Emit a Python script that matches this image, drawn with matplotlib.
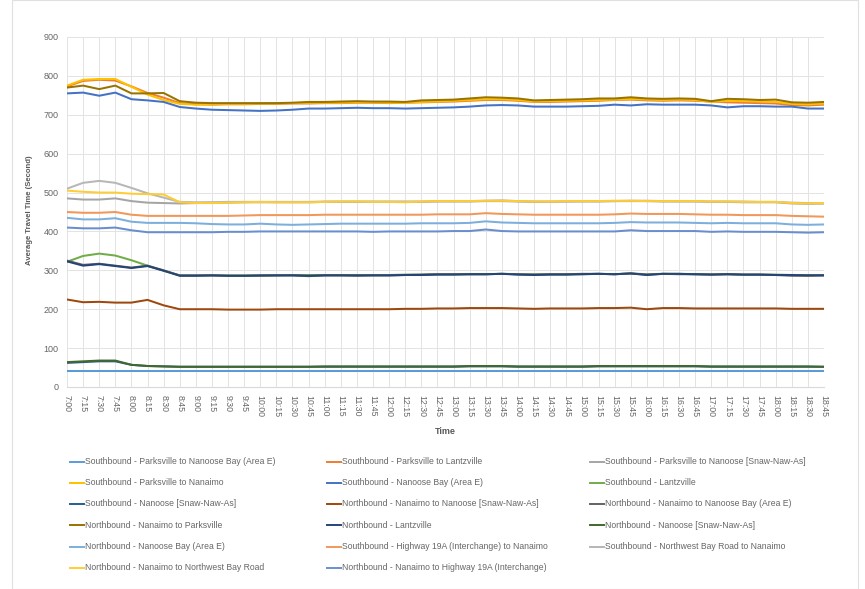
import matplotlib
matplotlib.use("Agg")
import matplotlib.pyplot as plt
from matplotlib.lines import Line2D
from matplotlib.patches import Rectangle

times = [f"{h}:{m:02d}" for h in range(7, 19) for m in (0, 15, 30, 45)]

names = [
    "Southbound - Parksville to Nanoose Bay (Area E)",
    "Southbound - Parksville to Lantzville",
    "Southbound - Parksville to Nanoose [Snaw-Naw-As]",
    "Southbound - Parksville to Nanaimo",
    "Southbound - Nanoose Bay (Area E)",
    "Southbound - Lantzville",
    "Southbound - Nanoose [Snaw-Naw-As]",
    "Northbound - Nanaimo to Nanoose [Snaw-Naw-As]",
    "Northbound - Nanaimo to Nanoose Bay (Area E)",
    "Northbound - Nanaimo to Parksville",
    "Northbound - Lantzville",
    "Northbound - Nanoose [Snaw-Naw-As]",
    "Northbound - Nanoose Bay (Area E)",
    "Southbound - Highway 19A (Interchange) to Nanaimo",
    "Southbound - Northwest Bay Road to Nanaimo",
    "Northbound - Nanaimo to Northwest Bay Road",
    "Northbound - Nanaimo to Highway 19A (Interchange)",
]

colors = ["#5B9BD5", "#ED7D31", "#A5A5A5", "#FFC000", "#4472C4", "#70AD47",
          "#255E91", "#9E480E", "#636363", "#997300", "#264478", "#43682B",
          "#7CAFDD", "#F1975A", "#B7B7B7", "#FFCD33", "#698ED0"]

sb_parksville_nanoose_bay = [40] * 48
sb_parksville_lantzville = [773,787,790,788,773,756,744,730,727,726,727,727,728,728,729,729,730,730,731,731,730,731,732,733,734,736,738,738,736,733,733,734,735,736,738,739,737,736,737,736,734,732,731,730,729,725,724,726]
sb_parksville_snaw = [485,482,482,485,478,474,473,472,473,474,474,475,475,475,475,475,476,476,476,476,476,476,476,477,477,477,478,478,477,476,476,477,477,477,478,478,478,477,477,477,476,476,475,475,475,472,471,472]
sb_parksville_nanaimo = [775,790,792,792,772,752,738,728,726,727,728,728,729,729,730,731,731,731,732,732,731,731,733,734,736,738,740,740,738,734,735,736,737,738,739,741,739,738,739,738,733,736,735,734,733,728,727,729]
sb_nanoose_bay = [755,757,749,757,740,737,733,720,716,713,712,711,710,711,713,716,716,717,718,717,717,716,717,718,719,721,724,725,724,721,721,721,722,723,726,724,727,726,726,726,724,719,722,722,721,721,716,716]
sb_lantzville = [322,337,343,338,326,312,299,287,287,287,287,287,287,287,288,288,288,288,288,288,288,289,289,290,290,290,290,291,290,290,290,290,290,291,290,292,290,291,291,290,290,290,289,289,289,288,288,288]
sb_snaw = [62,64,66,66,57,54,53,52,52,52,52,52,52,52,52,52,52,52,52,52,52,52,52,52,52,53,53,53,52,52,52,52,52,53,53,53,53,53,53,53,52,52,52,52,52,52,52,52]
nb_nanaimo_snaw = [225,218,219,217,217,224,210,200,200,200,199,199,199,200,200,200,200,200,200,200,200,201,201,202,202,203,203,203,202,201,202,202,202,203,203,204,200,203,203,202,202,202,202,202,202,201,201,201]
nb_nanaimo_nanoose_bay = [325,314,317,312,307,312,300,287,287,287,286,286,286,287,287,285,287,287,286,287,287,288,289,290,290,290,290,291,290,289,290,290,291,291,290,292,289,291,290,290,289,290,289,289,288,286,286,287]
nb_nanaimo_parksville = [770,775,766,775,755,755,756,735,731,730,730,730,730,730,731,733,733,734,735,734,734,733,737,738,739,742,745,744,742,737,738,739,740,742,742,745,742,741,742,741,735,741,740,738,739,732,731,733]
nb_lantzville = [323,312,316,311,306,311,299,286,286,287,286,286,287,287,287,286,287,287,287,287,287,288,288,289,289,290,290,291,289,288,289,289,290,291,290,292,288,291,291,290,289,290,289,289,288,288,287,287]
nb_snaw = [64,66,68,68,57,54,53,52,52,52,52,52,52,52,52,52,53,53,53,53,53,53,53,53,53,54,54,54,53,53,53,53,53,54,54,54,54,54,54,54,53,53,53,53,53,53,53,52]
nb_nanoose_bay = [435,431,431,434,425,422,422,422,421,419,418,418,420,418,417,418,419,420,420,420,420,420,421,421,421,422,426,423,422,421,421,421,421,421,422,424,423,423,423,422,421,422,421,421,421,418,417,418]
sb_hwy19a_nanaimo = [450,448,448,450,443,440,440,440,440,440,440,441,442,442,442,442,443,443,443,443,443,443,443,444,444,444,447,445,444,443,443,443,443,443,444,446,445,445,445,444,443,443,442,442,442,440,439,438]
sb_nwbay_nanaimo = [510,525,530,525,512,498,487,476,475,475,476,476,476,476,476,476,477,477,477,477,477,477,477,478,478,478,479,480,478,477,477,477,478,478,478,479,479,478,478,478,477,477,477,476,476,474,473,472]
nb_nanaimo_nwbay = [505,502,500,500,497,496,495,475,473,473,474,475,476,475,475,475,476,477,477,476,476,475,477,478,478,478,479,479,478,477,477,478,478,478,479,479,478,478,478,478,477,477,476,476,476,473,472,473]
nb_nanaimo_hwy19a = [410,408,408,410,403,398,398,398,398,398,399,399,400,400,400,400,400,400,400,399,400,400,400,400,401,401,405,401,400,400,400,400,400,400,400,403,401,401,401,401,399,400,399,399,399,398,397,398]

series = [sb_parksville_nanoose_bay, sb_parksville_lantzville, sb_parksville_snaw,
          sb_parksville_nanaimo, sb_nanoose_bay, sb_lantzville, sb_snaw,
          nb_nanaimo_snaw, nb_nanaimo_nanoose_bay, nb_nanaimo_parksville,
          nb_lantzville, nb_snaw, nb_nanoose_bay, sb_hwy19a_nanaimo,
          sb_nwbay_nanaimo, nb_nanaimo_nwbay, nb_nanaimo_hwy19a]

y_ticks = list(range(0, 901, 100))

W, H = 865, 589
fig = plt.figure(figsize=(W / 100, H / 100), dpi=100)
fig.patch.set_facecolor("white")

# outer chart frame
fig.add_artist(Rectangle((12 / W, 0.0), (858 - 12) / W, 1.0, transform=fig.transFigure,
                         fill=False, edgecolor="#E0E0E0", linewidth=0.8))

ax = fig.add_axes([67 / W, 1 - 387 / H, (824 - 67) / W, (387 - 37) / H])
x = list(range(len(times)))
for vals, c in zip(series, colors):
    ax.plot(x, vals, color=c, linewidth=1.45, solid_capstyle="round")

ax.set_xlim(0, len(times) - 1)
ax.set_ylim(0, 900)
ax.set_yticks(y_ticks)
ax.set_xticks(x)
ax.set_xticklabels(times, rotation=-90, fontsize=6.3, color="#666666",
                   family="Liberation Sans")
ax.set_yticklabels([str(v) for v in y_ticks], fontsize=6.5, color="#666666",
                   family="Liberation Sans")
ax.tick_params(axis="both", length=0, pad=6)
ax.grid(True, color="#E3E3E3", linewidth=0.7)
ax.set_axisbelow(True)
for s in ["top", "right", "left"]:
    ax.spines[s].set_visible(False)
ax.spines["bottom"].set_color("#D9D9D9")
ax.spines["bottom"].set_linewidth(0.8)

fig.text(30 / W, 1 - 210 / H, "Average Travel Time (Second)", rotation=90,
         ha="center", va="center", fontsize=5.6, fontweight="bold",
         color="#595959", family="Liberation Sans")
fig.text(445 / W, 1 - 432 / H, "Time", ha="center", va="center", fontsize=6.5,
         fontweight="bold", color="#595959", family="Liberation Sans")

# legend (row-wise, 3 columns)
col_x = [70, 327, 590]
row_y = [461.5, 482.8, 504, 525.3, 546.6, 568]
for i, (name, c) in enumerate(zip(names, colors)):
    r, col = divmod(i, 3)
    lx = col_x[col]
    ly = 1 - row_y[r] / H
    fig.add_artist(Line2D([lx / W, (lx + 14) / W], [ly, ly], transform=fig.transFigure,
                          color=c, linewidth=1.4))
    fig.text((lx + 15) / W, ly, name, ha="left", va="center", fontsize=6.2,
             color="#666666", family="Liberation Sans")

fig.savefig("out.png", dpi=100, facecolor="white")
